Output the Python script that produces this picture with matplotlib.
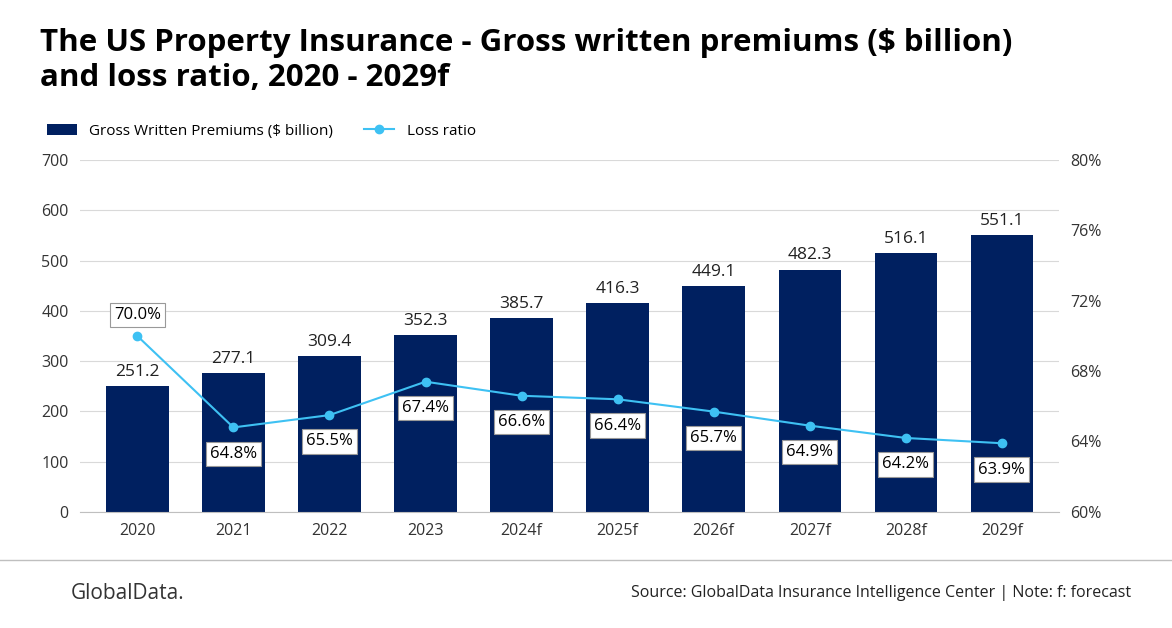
import matplotlib.pyplot as plt
import numpy as np

years = ['2020', '2021', '2022', '2023', '2024f', '2025f', '2026f', '2027f', '2028f', '2029f']
premiums = [251.2, 277.1, 309.4, 352.3, 385.7, 416.3, 449.1, 482.3, 516.1, 551.1]
loss_ratio = [70.0, 64.8, 65.5, 67.4, 66.6, 66.4, 65.7, 64.9, 64.2, 63.9]

plt.rcParams['font.family'] = ['Open Sans', 'DejaVu Sans']
navy = '#002060'
light = '#3EC1F3'

fig = plt.figure(figsize=(11.72, 6.28), dpi=100)
ax = fig.add_axes([0.068, 0.185, 0.836, 0.56])
x = np.arange(len(years))
ax.bar(x, premiums, width=0.65, color=navy, zorder=2, label='Gross Written Premiums ($ billion)')
for xi, v in zip(x, premiums):
    ax.text(xi, v + 12, f'{v:.1f}', ha='center', va='bottom', fontsize=12.5, color='#222222')
ax.set_ylim(0, 700)
ax.set_yticks(range(0, 701, 100))
ax.set_xlim(-0.6, len(years) - 0.4)
ax.set_xticks(x)
ax.set_xticklabels(years)
ax.grid(axis='y', color='#d9d9d9', lw=0.8, zorder=0)
for s in ['top', 'right', 'left']:
    ax.spines[s].set_visible(False)
ax.spines['bottom'].set_color('#bfbfbf')
ax.tick_params(length=0, labelsize=11.5, colors='#333333', pad=8)

ax2 = ax.twinx()
ax2.plot(x, loss_ratio, color=light, marker='o', ms=6, lw=1.5, label='Loss ratio')
ax2.set_ylim(60, 80)
ax2.set_yticks(range(60, 81, 4))
ax2.set_yticklabels([f'{t}%' for t in range(60, 81, 4)])
for s in ax2.spines.values():
    s.set_visible(False)
ax2.tick_params(length=0, labelsize=11.5, colors='#333333', pad=8)
for i, (xi, v) in enumerate(zip(x, loss_ratio)):
    dy = 1.2 if i == 0 else -1.5
    ax2.text(xi, v + dy, f'{v:.1f}%', ha='center', va='center', fontsize=12,
             bbox=dict(boxstyle='square,pad=0.25', fc='white', ec='#999999', lw=0.8))

fig.text(0.034, 0.955, 'The US Property Insurance - Gross written premiums ($ billion)\nand loss ratio, 2020 - 2029f',
         fontsize=22.5, fontweight='bold', va='top', linespacing=1.2)
h1, l1 = ax.get_legend_handles_labels()
h2, l2 = ax2.get_legend_handles_labels()
fig.legend(h1 + h2, l1 + l2, loc='upper left', bbox_to_anchor=(0.028, 0.825), ncol=2,
           frameon=False, fontsize=11, handlelength=2, columnspacing=2)
fig.add_artist(plt.Line2D([0.0, 1.0], [0.108, 0.108], color='#bfbfbf', lw=1))
fig.text(0.06, 0.055, 'GlobalData.', fontsize=15, color='#333333', va='center')
fig.text(0.965, 0.055, 'Source: GlobalData Insurance Intelligence Center | Note: f: forecast',
         fontsize=11.5, ha='right', va='center', color='#222222')
fig.savefig('out.png', dpi=100)
